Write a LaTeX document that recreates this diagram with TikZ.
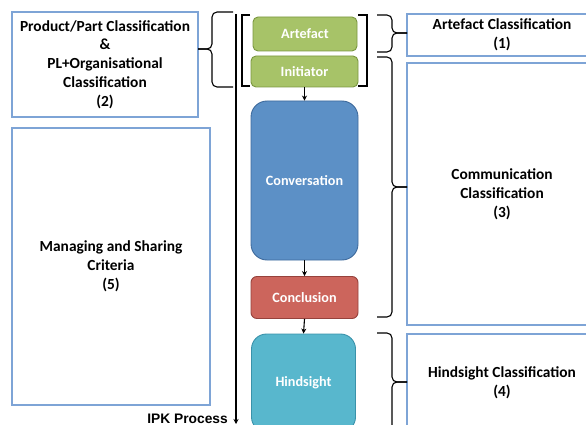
\documentclass[tikz,border=0pt]{standalone}
\usepackage{fontspec}
\setmainfont{Carlito}
\newfontfamily\ipkfont{Liberation Sans}
\usetikzlibrary{arrows.meta, positioning}

\definecolor{artgreen}{RGB}{167,195,104}
\definecolor{artgreenline}{RGB}{122,150,64}
\definecolor{convblue}{RGB}{92,144,198}
\definecolor{convblueline}{RGB}{62,106,156}
\definecolor{conclred}{RGB}{204,101,92}
\definecolor{conclredline}{RGB}{150,66,60}
\definecolor{hindteal}{RGB}{88,183,205}
\definecolor{hindtealline}{RGB}{58,146,170}
\definecolor{boxline}{RGB}{126,164,214}

\begin{document}
\begin{tikzpicture}[x=1pt, y=-1pt,
	stage/.style={draw, line width=0.9pt, rounded corners=5pt, inner sep=0pt,
		text=white, font=\fontsize{14.2}{16}\selectfont\bfseries},
	classbox/.style={draw=boxline, line width=1.2pt, inner sep=0pt, align=center,
		font=\fontsize{15.4}{18.8}\selectfont\bfseries},
	brace/.style={draw, line width=1.1pt, rounded corners=5pt},
	flow/.style={-{Stealth[length=5pt, width=5pt]}, line width=1.1pt}]
	\useasboundingbox (0,0) rectangle (586,425);

	% stages of the process
	\node[stage, fill=artgreen, draw=artgreenline, minimum width=104pt, minimum height=34pt] (art) at (305,34) {Artefact};
	\node[stage, fill=artgreen, draw=artgreenline, minimum width=107pt, minimum height=31pt] (ini) at (304.5,71.5) {Initiator};
	\node[stage, fill=convblue, draw=convblueline, rounded corners=16pt, minimum width=107pt, minimum height=159pt] (conv) at (304.5,180.5) {Conversation};
	\node[stage, fill=conclred, draw=conclredline, rounded corners=6pt, minimum width=107pt, minimum height=42pt] (concl) at (304.5,297.5) {Conclusion};
	\node[stage, fill=hindteal, draw=hindtealline, rounded corners=15pt, minimum width=104pt, minimum height=98pt] (hind) at (303.5,383) {Hindsight};

	\draw[flow] (ini.south) -- (conv.north);
	\draw[flow] (conv.south) -- (concl.north);
	\draw[flow] (concl.south) -- (hind.north);

	% classification boxes
	\node[classbox, minimum width=190pt, minimum height=42pt] (cls1) at (502,35) {Artefact Classification\\(1)};
	\node[classbox, minimum width=186pt, minimum height=105pt] (cls2) at (105,64.5) {Product/Part Classification\\\&\\PL+Organisational\\Classification\\(2)};
	\node[classbox, minimum width=190pt, minimum height=262pt] (cls3) at (502,194) {Communication\\Classification\\(3)};
	\node[classbox, minimum width=190pt, minimum height=98pt] (cls4) at (502,383) {Hindsight Classification\\(4)};
	\node[classbox, minimum width=198pt, minimum height=277pt] (cls5) at (111,266.5) {Managing and Sharing\\Criteria\\(5)};

	% braces on the right
	\foreach \top/\bot/\tip in {15/52/33, 57/317/187, 333/431/382}{
		\draw[brace] (377,\top) -- (392,\top) -- (392,\tip) -- (407,\tip);
		\draw[brace] (377,\bot) -- (392,\bot) -- (392,\tip) -- (407,\tip);
	}
	% brace on the left
	\draw[brace] (233,12) -- (212,12) -- (212,49) -- (198,49);
	\draw[brace] (233,87) -- (212,87) -- (212,49) -- (198,49);

	% bracket round artefact and initiator
	\draw[line width=1.1pt] (250,15) -- (242,15) -- (242,86) -- (250,86);
	\draw[line width=1.1pt] (358,15) -- (367,15) -- (367,86) -- (358,86);

	% process axis
	\coordinate (ipktop) at (236,14);
	\coordinate (ipkend) at (236,424);
	\draw[flow] (ipktop) -- (ipkend);
	\node[anchor=base east, inner sep=0pt, font=\ipkfont\fontsize{13.8}{16}\selectfont\bfseries] (ipk) at (228,423) {IPK Process};
\end{tikzpicture}
\end{document}
